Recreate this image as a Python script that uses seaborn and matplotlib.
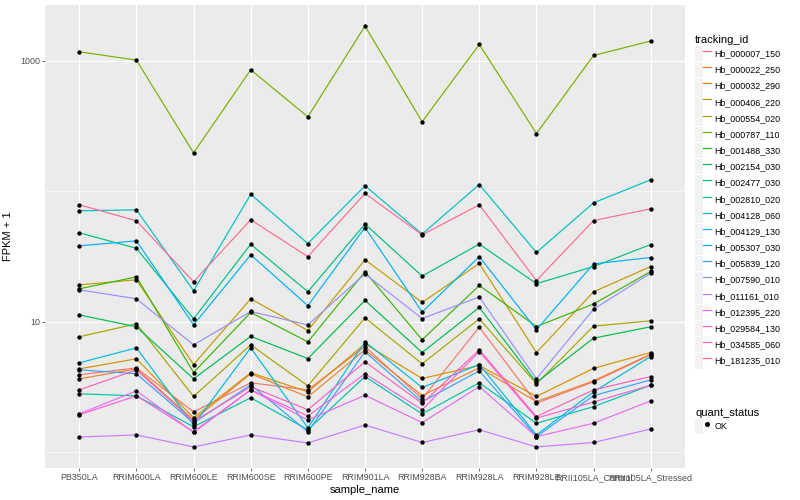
import numpy as np
import pandas as pd
import seaborn as sns
import matplotlib.pyplot as plt
from matplotlib.lines import Line2D
from matplotlib.patches import Patch
from matplotlib.legend_handler import HandlerTuple
from matplotlib.ticker import FixedLocator, NullFormatter

# samples on the x axis
samples = ["PB350LA", "RRIM600LA", "RRIM600LE", "RRIM600SE", "RRIM600PE", "RRIM901LA",
           "RRIM928BA", "RRIM928LA", "RRIM928LE", "RRII105LA_Control", "RRII105LA_Stressed"]

tracking_ids = ["Hb_000007_150", "Hb_000022_250", "Hb_000032_290", "Hb_000406_220",
                "Hb_000554_020", "Hb_000787_110", "Hb_001488_330", "Hb_002154_030",
                "Hb_002477_030", "Hb_002810_020", "Hb_004128_060", "Hb_004129_130",
                "Hb_005307_030", "Hb_005839_120", "Hb_007590_010", "Hb_011161_010",
                "Hb_012395_220", "Hb_029584_130", "Hb_034585_060", "Hb_181235_010"]

# FPKM + 1 per gene, one value per sample
hb_000007_150 = [3.93, 4.44, 2.04, 3.41, 3.01, 6.47, 2.57, 9.11, 2.38, 3.47, 5.59]
hb_000022_250 = [3.66, 4.36, 1.77, 4.00, 2.66, 6.10, 2.72, 4.44, 2.45, 3.53, 5.65]
hb_000032_290 = [4.36, 5.21, 1.84, 4.07, 2.91, 6.78, 3.68, 4.63, 2.68, 4.40, 5.82]
hb_000406_220 = [19.2, 21.0, 4.71, 15.0, 8.58, 29.9, 14.1, 28.0, 5.82, 17.0, 26.5]
hb_000554_020 = [7.68, 9.65, 2.68, 6.66, 3.23, 10.73, 4.77, 10.54, 3.35, 9.27, 10.18]
hb_000787_110 = [1172, 1012, 197, 853, 372, 1845, 341, 1334, 277, 1098, 1416]
hb_001488_330 = [17.9, 22.1, 4.09, 11.8, 7.03, 24.2, 7.28, 19.0, 9.20, 13.7, 24.3]
hb_002154_030 = [11.3, 9.16, 3.66, 7.74, 5.23, 14.6, 5.82, 12.9, 3.43, 7.50, 9.16]
hb_002477_030 = [48.1, 36.6, 10.54, 39.3, 17.0, 56.1, 22.4, 39.4, 19.6, 26.5, 39.1]
hb_002810_020 = [2.81, 2.71, 1.57, 2.62, 1.49, 3.81, 1.97, 3.41, 1.67, 2.24, 3.27]
hb_004128_060 = [70.9, 72.1, 17.3, 94.8, 39.8, 110.2, 47.0, 112.7, 34.0, 81.6, 122.5]
hb_004129_130 = [4.85, 6.32, 1.62, 6.32, 1.54, 7.03, 3.14, 4.71, 1.36, 2.91, 5.42]
hb_005307_030 = [38.2, 41.7, 9.48, 32.6, 13.3, 52.8, 11.9, 31.6, 8.69, 27.8, 31.1]
hb_005839_120 = [4.29, 4.00, 1.68, 3.29, 1.44, 5.89, 2.44, 4.21, 1.32, 2.72, 3.59]
hb_007590_010 = [17.6, 15.0, 6.66, 12.0, 9.48, 23.3, 10.6, 15.5, 3.66, 12.5, 23.6]
hb_011161_010 = [1.31, 1.36, 1.10, 1.36, 1.18, 1.62, 1.19, 1.49, 1.10, 1.19, 1.51]
hb_012395_220 = [1.97, 2.96, 1.42, 3.01, 1.77, 2.74, 1.69, 3.19, 1.32, 1.67, 2.48]
hb_029584_130 = [1.94, 2.71, 1.44, 3.01, 1.90, 4.00, 2.12, 5.92, 1.83, 2.43, 3.27]
hb_034585_060 = [3.01, 4.29, 1.72, 3.18, 2.12, 4.94, 2.37, 6.10, 1.88, 3.01, 3.81]
hb_181235_010 = [78.8, 59.4, 20.3, 60.5, 31.6, 96.2, 46.4, 78.8, 20.7, 59.7, 73.4]

series = [hb_000007_150, hb_000022_250, hb_000032_290, hb_000406_220, hb_000554_020,
          hb_000787_110, hb_001488_330, hb_002154_030, hb_002477_030, hb_002810_020,
          hb_004128_060, hb_004129_130, hb_005307_030, hb_005839_120, hb_007590_010,
          hb_011161_010, hb_012395_220, hb_029584_130, hb_034585_060, hb_181235_010]

# ggplot default hue palette for 20 levels
palette = ["#F8766D", "#EA8331", "#D89000", "#C09B00", "#A3A500", "#7CAE00", "#39B600",
           "#00BB4E", "#00BF7D", "#00C1A3", "#00BFC4", "#00BAE0", "#00B0F6", "#35A2FF",
           "#9590FF", "#C77CFF", "#E76BF3", "#FA62DB", "#FF62BC", "#FF6C91"]

rows = []
for tid, vals in zip(tracking_ids, series):
    for s, v in zip(samples, vals):
        rows.append({"tracking_id": tid, "sample_name": s, "fpkm": v})
df = pd.DataFrame(rows)
df["quant_status"] = "OK"

plt.rcParams["font.family"] = ["Liberation Sans", "DejaVu Sans"]

fig = plt.figure(figsize=(8, 5), dpi=100)
ax = fig.add_axes([45 / 800, 32 / 500, 640 / 800, 463 / 500])
ax.set_facecolor("#EBEBEB")

sns.lineplot(data=df, x="sample_name", y="fpkm", hue="tracking_id", hue_order=tracking_ids,
             palette=palette, estimator=None, sort=False, lw=0.85, legend=False, ax=ax)
sns.scatterplot(data=df, x="sample_name", y="fpkm", color="black", s=10, linewidth=0,
                legend=False, ax=ax, zorder=3)

ax.set_yscale("log")
lo, hi = np.log10(df["fpkm"].min()), np.log10(df["fpkm"].max())
pad = 0.05 * (hi - lo)
ax.set_ylim(10 ** (lo - pad), 10 ** (hi + pad))
ax.set_xlim(-0.6, len(samples) - 0.4)
ax.yaxis.set_major_locator(FixedLocator([10, 1000]))
ax.set_yticklabels(["10", "1000"])
ax.yaxis.set_minor_locator(FixedLocator([1, 100]))
ax.yaxis.set_minor_formatter(NullFormatter())

ax.set_axisbelow(True)
ax.grid(which="major", color="white", lw=0.8)
ax.grid(which="minor", axis="y", color="white", lw=0.4)
for sp in ax.spines.values():
    sp.set_visible(False)
ax.tick_params(which="major", length=2, width=0.5, color="#333333", labelsize=6.4,
               labelcolor="#4D4D4D", pad=1.5)
ax.tick_params(which="minor", length=0)
ax.set_xlabel("sample_name", fontsize=8, labelpad=2)
ax.set_ylabel("FPKM + 1", fontsize=8, labelpad=5)

key_bg = "#F2F2F2"
handles = [(Patch(facecolor=key_bg, edgecolor="none"), Line2D([], [], color=c, lw=0.9))
           for c in palette]
leg1 = ax.legend(handles, tracking_ids, handler_map={tuple: HandlerTuple(ndivide=None, pad=0)},
                 title="tracking_id", loc="upper left", bbox_to_anchor=(695 / 800, 1 - 35 / 500),
                 bbox_transform=fig.transFigure, frameon=False, fontsize=6.4, title_fontsize=8,
                 handlelength=1.8, handleheight=2.3, labelspacing=0.08, handletextpad=0.4,
                 borderaxespad=0, borderpad=0, alignment="left")
ax.add_artist(leg1)

ok_handle = [(Patch(facecolor=key_bg, edgecolor="none"),
              Line2D([], [], marker="o", color="black", ls="none", markersize=2.6))]
ax.legend(ok_handle, ["OK"], handler_map={tuple: HandlerTuple(ndivide=None, pad=0)},
          title="quant_status", loc="upper left", bbox_to_anchor=(695 / 800, 1 - 408 / 500),
          bbox_transform=fig.transFigure, frameon=False, fontsize=6.4, title_fontsize=8,
          handlelength=1.8, handleheight=2.3, labelspacing=0.08, handletextpad=0.4,
          borderaxespad=0, borderpad=0, alignment="left")

fig.savefig("out.png", dpi=100)
